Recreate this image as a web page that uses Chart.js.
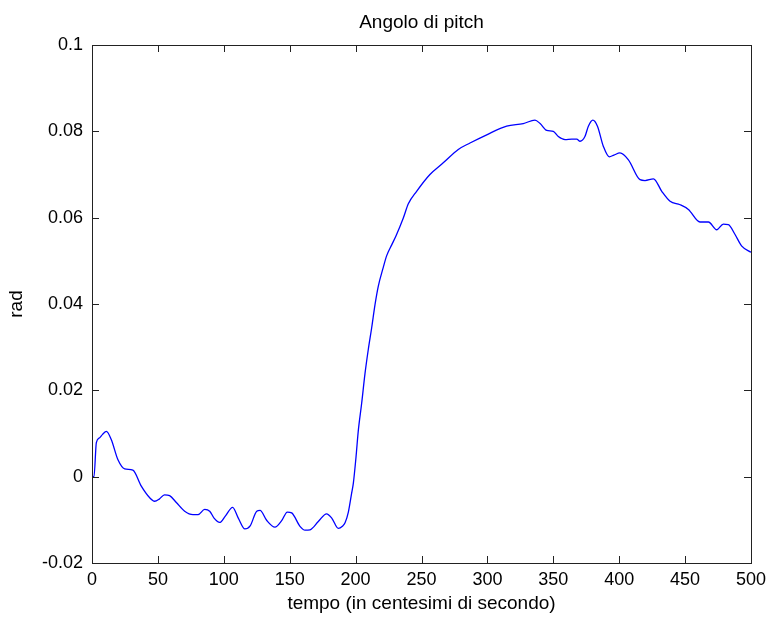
<!DOCTYPE html>
<html>
<head>
<meta charset="utf-8">
<title>Angolo di pitch</title>
<script src="https://cdn.jsdelivr.net/npm/chart.js@4.4.0/dist/chart.umd.min.js"></script>
<style>
    html, body { margin: 0; padding: 0; background: #fff; }
    #pitchChart { display: block; }
</style>
</head>
<body>
<canvas id="pitchChart" width="769" height="619"></canvas>
<script>
// Data

var tempo = [
    0, 1.5, 3.3, 5.8, 8, 10.9, 14.6, 19.7, 24.8, 31, 37.4, 43.8, 47.5, 51, 55, 58.9,
    64, 70.3, 76.6, 80.4, 85.5, 89.3, 92.6, 96.9, 101, 106.7, 111, 116, 120, 125,
    127.5, 132.5, 138.8, 143.9, 148.2, 151.5, 157.8, 161.6, 165.4, 171.7, 178,
    181.9, 186.9, 190, 192, 194.5, 197, 198.3, 200.3, 202, 204.6, 207.1, 209.6,
    212.2, 214.7, 217.2, 221, 223.6, 227.4, 230.7, 236.2, 240, 246.3, 256.4, 266.5,
    277.9, 286.8, 299.5, 314.6, 327.2, 336.1, 340, 345, 350, 353.8, 358.9, 364,
    367.8, 370.3, 374, 376.6, 380, 383.5, 388, 392.5, 396, 400.6, 407, 415.8, 419.6,
    426, 432.3, 438.6, 446.2, 452.5, 461.3, 467.7, 474, 479, 482.8, 487.9, 493, 500
];

var pitch = [
    0, 0, 0.0079, 0.009, 0.0098, 0.0105, 0.0086, 0.0039, 0.0018, 0.0015, -0.0022,
    -0.0049, -0.0057, -0.0052, -0.0042, -0.0044, -0.006, -0.008, -0.0088, -0.0088,
    -0.0076, -0.008, -0.0096, -0.0106, -0.0092, -0.0071, -0.0096, -0.0121, -0.0114,
    -0.008, -0.0078, -0.0101, -0.0117, -0.0102, -0.0082, -0.0084, -0.0115, -0.0124,
    -0.0123, -0.0104, -0.0086, -0.0096, -0.012, -0.0115, -0.0107, -0.0082, -0.0038,
    -0.0015, 0.0045, 0.0105, 0.017, 0.0238, 0.0294, 0.0345, 0.0398, 0.0441, 0.0485,
    0.0512, 0.0537, 0.0558, 0.0599, 0.0632, 0.0661, 0.070, 0.0727, 0.0758, 0.0773,
    0.0792, 0.0812, 0.0818, 0.0826, 0.0818, 0.0802, 0.080, 0.0788, 0.0781, 0.0782,
    0.0782, 0.0777, 0.0788, 0.0812, 0.0826, 0.0812, 0.0765, 0.0741, 0.0745, 0.075,
    0.0734, 0.0688, 0.0686, 0.069, 0.0661, 0.0638, 0.063, 0.0619, 0.059, 0.059,
    0.0572, 0.0585, 0.0584, 0.0561, 0.0534, 0.052
];

// tick labels
var xTicks = ['0', '50', '100', '150', '200', '250', '300', '350', '400', '450', '500'];
var yTicks = ['-0.02', '0', '0.02', '0.04', '0.06', '0.08', '0.1'];

var points = tempo.map(function (t, i) {
    return { x: t, y: pitch[i] };
});

var FONT = 'Liberation Sans, Arial, sans-serif';
var AXIS_COLOR = '#222';

// box around the plot + inward tick marks on all four sides (matlab style)
var boxPlugin = {
    id: 'boxPlugin',
    afterDatasetsDraw: function (chart) {
        var ctx = chart.ctx;
        var a = chart.chartArea;
        var xs = chart.scales.x;
        var ys = chart.scales.y;
        var len = 7;
        ctx.save();
        ctx.strokeStyle = AXIS_COLOR;
        ctx.lineWidth = 1;
        ctx.beginPath();
        xs.ticks.forEach(function (tk) {
            var px = Math.round(xs.getPixelForValue(tk.value)) + 0.5;
            ctx.moveTo(px, a.bottom);
            ctx.lineTo(px, a.bottom - len);
            ctx.moveTo(px, a.top);
            ctx.lineTo(px, a.top + len);
        });
        ys.ticks.forEach(function (tk) {
            var py = Math.round(ys.getPixelForValue(tk.value)) + 0.5;
            ctx.moveTo(a.left, py);
            ctx.lineTo(a.left + len, py);
            ctx.moveTo(a.right, py);
            ctx.lineTo(a.right - len, py);
        });
        ctx.stroke();
        ctx.strokeRect(Math.round(a.left) + 0.5, Math.round(a.top) + 0.5,
            Math.round(a.right - a.left), Math.round(a.bottom - a.top));
        ctx.restore();
    }
};

var whiteBg = {
    id: 'whiteBg',
    beforeDraw: function (chart) {
        var ctx = chart.ctx;
        ctx.save();
        ctx.fillStyle = '#fff';
        ctx.fillRect(0, 0, chart.width, chart.height);
        ctx.restore();
    }
};

var config = {
    type: 'line',
    data: {
        datasets: [{
            label: 'pitch',
            data: points,
            xAxisID: 'x',
            yAxisID: 'y',
            borderColor: '#0000ff',
            borderWidth: 1.3,
            pointRadius: 0,
            fill: false,
            cubicInterpolationMode: 'monotone'
        }]
    },
    options: {
        responsive: false,
        animation: false,
        layout: {
            padding: { left: 0, right: 18, top: 0, bottom: 0 }
        },
        scales: {
            x: {
                type: 'linear',
                position: 'bottom',
                min: 0,
                max: 500,
                grid: { display: false, drawTicks: false },
                border: { display: false },
                ticks: {
                    stepSize: 50,
                    maxRotation: 0,
                    padding: 6,
                    color: '#000',
                    font: { family: FONT, size: 18 },
                    callback: function (value) {
                        return xTicks[Math.round(value / 50)];
                    }
                },
                title: {
                    display: true,
                    text: 'tempo (in centesimi di secondo)',
                    color: '#000',
                    font: { family: FONT, size: 19 },
                    padding: { top: 0, bottom: 4 }
                },
                afterFit: function (scale) {
                    scale.height = 56;
                    // the "500" label may stick out, don't let it shrink the plot
                    scale.paddingLeft = 0;
                    scale.paddingRight = 0;
                }
            },
            // top axis only carries the title, so it is centred over the plot
            xTop: {
                type: 'linear',
                axis: 'x',
                position: 'top',
                min: 0,
                max: 500,
                grid: { display: false, drawTicks: false },
                border: { display: false },
                ticks: { display: false },
                title: {
                    display: true,
                    text: 'Angolo di pitch',
                    color: '#000',
                    font: { family: FONT, size: 19 },
                    padding: { top: 11, bottom: 0 }
                },
                afterFit: function (scale) {
                    scale.height = 45;
                    scale.paddingLeft = 0;
                    scale.paddingRight = 0;
                }
            },
            y: {
                min: -0.02,
                max: 0.1,
                grid: { display: false, drawTicks: false },
                border: { display: false },
                ticks: {
                    stepSize: 0.02,
                    padding: 9,
                    color: '#000',
                    font: { family: FONT, size: 18 },
                    callback: function (value) {
                        return yTicks[Math.round((value + 0.02) / 0.02)];
                    }
                },
                title: {
                    display: true,
                    text: 'rad',
                    color: '#000',
                    font: { family: FONT, size: 19 },
                    padding: { top: 5, bottom: 0 }
                },
                afterFit: function (scale) {
                    scale.width = 92;
                }
            }
        },
        plugins: {
            legend: { display: false },
            tooltip: { enabled: false },
            title: { display: false }
        }
    },
    plugins: [whiteBg, boxPlugin]
};

var pitchChart = new Chart(document.getElementById('pitchChart'), config);
</script>
</body>
</html>
